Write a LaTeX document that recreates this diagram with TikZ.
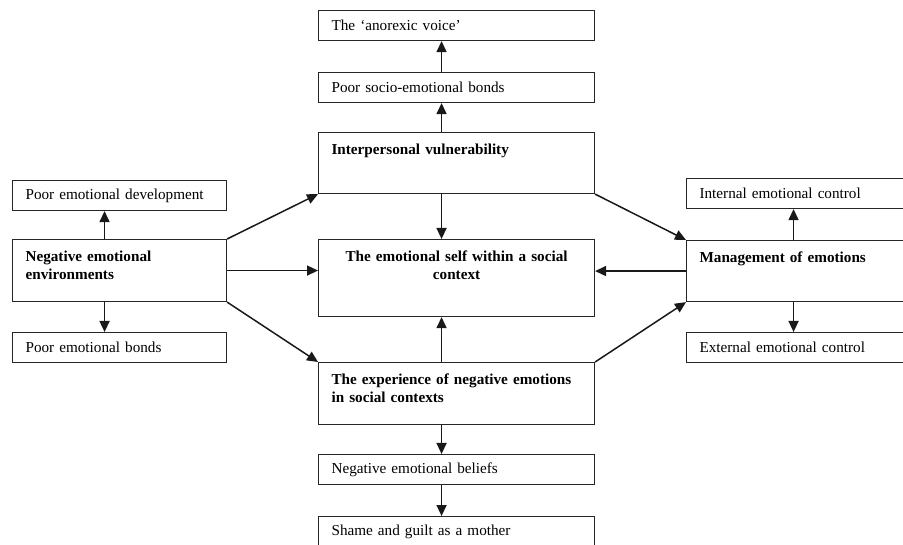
\documentclass[tikz,border=0pt]{standalone}
\usepackage{fontspec}
\setmainfont{Liberation Serif}
\usetikzlibrary{arrows.meta}

\begin{document}
\begin{tikzpicture}[
            x=1pt,
            y=-1pt,
            box/.style={draw=black!85,line width=1.1pt,rectangle,anchor=north west,
                inner xsep=13pt,inner ysep=0pt,align=left,
                font=\fontsize{15.2}{17.5}\selectfont},
            single/.style={box,text width=#1,minimum height=30pt},
            tall/.style={box,text height=22pt,font=\fontsize{15.2}{17.5}\selectfont\bfseries},
            arr/.style={-{Triangle[length=11pt,width=10pt]},line width=1.5pt,draw=black!90}
        ]
            \useasboundingbox (0,0) rectangle (903,545);

            % centre column
            \node[single=250] (voice) at (318,10) {The ‘anorexic voice’};
            \node[single=250] (socio) at (318,72) {Poor socio-emotional bonds};
            \node[tall,text width=250,text depth=39pt] (ipv) at (318,132) {Interpersonal vulnerability};
            \node[tall,text width=250,text depth=55pt,align=center] (self) at (318,239)
                {The emotional self within a social\\context};
            \node[tall,text width=250,text depth=40pt] (exper) at (318,362)
                {The experience of negative emotions\\in social contexts};
            \node[single=250] (beliefs) at (318,454) {Negative emotional beliefs};
            \node[single=250] (shame) at (318,516) {Shame and guilt as a mother};

            % left column
            \node[single=188] (devel) at (12,180) {Poor emotional development};
            \node[tall,text width=188,text depth=40pt] (negenv) at (12,239)
                {Negative emotional\\environments};
            \node[single=188] (pbonds) at (12,332) {Poor emotional bonds};

            % right column
            \node[single=204] (intctrl) at (686,178) {Internal emotional control};
            \node[tall,text width=204,text depth=39pt] (mgmt) at (686,240) {Management of emotions};
            \node[single=204] (extctrl) at (686,332) {External emotional control};

            \foreach \a/\b/\dx in {ipv.north/socio.south/-15,socio.north/voice.south/-15,
                    ipv.south/self.north/-15,exper.north/self.south/-15,
                    exper.south/beliefs.north/-15,beliefs.south/shame.north/-15,
                    negenv.north/devel.south/-15,negenv.south/pbonds.north/-15,
                    mgmt.north/intctrl.south/-8,mgmt.south/extctrl.north/-8} {
                \draw[arr] ([xshift=\dx pt]\a) -- ([xshift=\dx pt]\b);
            }

            \draw[arr] (negenv.north east) -- (ipv.south west);
            \draw[arr] (negenv.east) -- (negenv.east -| self.west);
            \draw[arr] (negenv.south east) -- (exper.north west);
            \draw[arr] (ipv.south east) -- (mgmt.north west);
            \draw[arr] (exper.north east) -- (mgmt.south west);
            \draw[arr] (mgmt.west) -- (mgmt.west -| self.east);
        \end{tikzpicture}
\end{document}
